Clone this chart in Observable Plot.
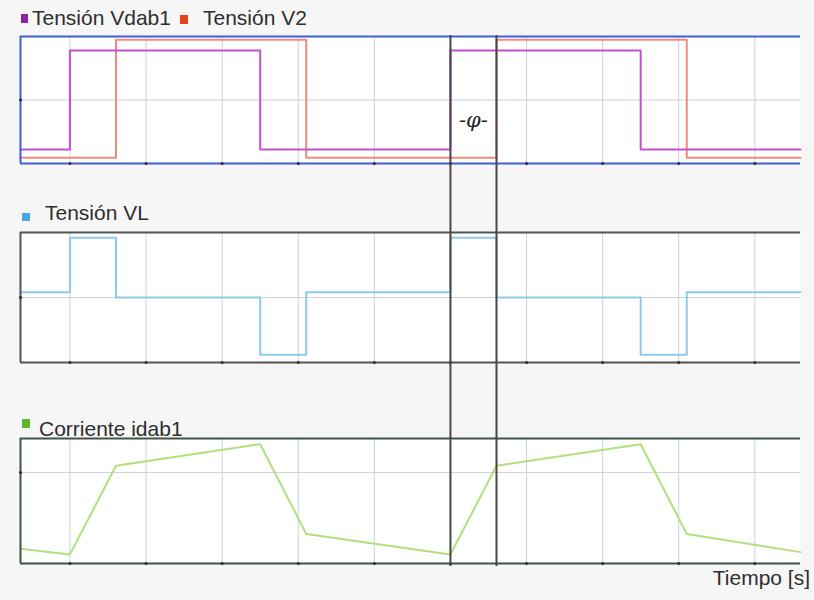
<!DOCTYPE html>
<html>
<head>
<meta charset="utf-8">
<script src="https://cdn.jsdelivr.net/npm/d3@7"></script>
<script src="https://cdn.jsdelivr.net/npm/@observablehq/plot@0.6"></script>
<style>
  html, body { margin: 0; padding: 0; background: #f6f6f6; }
  #wrap { position: relative; width: 814px; height: 600px; background: #f6f6f6;
          font-family: "Liberation Sans", Arial, sans-serif; color: #2e2e2e; overflow: hidden; }
  .pl { position: absolute; left: 0; }
  .lab { position: absolute; white-space: nowrap; line-height: 1; }
  .sw { position: absolute; }
</style>
</head>
<body>
<div id="wrap">
  <div class="sw" style="left:21px;top:14px;width:7px;height:9px;background:#8b22a8"></div>
  <div class="lab" style="left:32px;top:7px;font-size:21px">Tensión Vdab1</div>
  <div class="sw" style="left:180px;top:15px;width:8px;height:9px;background:#e8421e"></div>
  <div class="lab" style="left:203px;top:7px;font-size:21px">Tensión V2</div>

  <div class="sw" style="left:22px;top:213px;width:8px;height:8px;background:#42a9dc"></div>
  <div class="lab" style="left:45px;top:202px;font-size:21px">Tensión VL</div>

  <div class="sw" style="left:22px;top:419px;width:8px;height:9px;background:#5cb82c"></div>
  <div class="lab" style="left:39px;top:418px;font-size:21px">Corriente idab1</div>

  <div class="lab" style="right:4px;top:567px;font-size:21px">Tiempo [s]</div>
</div>
<script>
// Tiempo (µs) de cada vértice, común a todas las señales
const tiempo = [-1.3, 0, 1.21, 5, 6.21, 10, 11.21, 15, 16.21, 19.2];
// Tensión Vdab1 (escalón)
const vdab1 = [-0.78, 0.78, 0.78, -0.78, -0.78, 0.78, 0.78, -0.78, -0.78, -0.78];
// Tensión V2 (escalón, desfasada φ)
const v2 = [-0.91, -0.91, 0.95, 0.95, -0.91, -0.91, 0.95, 0.95, -0.91, -0.91];
// Tensión VL (escalón)
const vl = [0.08, 0.92, 0.0, -0.88, 0.08, 0.92, 0.0, -0.88, 0.08, 0.08];
// Corriente idab1 (lineal por tramos)
const idab1 = [-6.7, -7.2, 0.6, 2.5, -5.4, -7.2, 0.6, 2.5, -5.4, -7.0];
// Rejilla vertical
const gridTiempo = [0, 2, 4, 6, 8, 10, 12, 14, 16, 18];
// Líneas del desfase φ
const desfase = [10, 11.21];
const xDomain = [-1.3, 19.2];

const rows = (vals) => tiempo.map((t, i) => ({t, v: vals[i]}));

function panel({top, height, marginTop, marginBottom, yDomain, frameColor, series, curve, extra = []}) {
  const chart = Plot.plot({
    width: 814, height, marginLeft: 20, marginRight: 14, marginTop, marginBottom,
    x: {domain: xDomain, axis: null},
    y: {domain: yDomain, axis: null},
    style: {background: "transparent", overflow: "visible"},
    marks: [
      Plot.frame({fill: "white", stroke: null}),
      Plot.ruleX(gridTiempo, {stroke: "#c9d1db", strokeWidth: 1}),
      Plot.ruleY([0], {stroke: "#c9d1db", strokeWidth: 1}),
      ...series.map(s => Plot.line(rows(s.values), {x: "t", y: "v", stroke: s.color, strokeWidth: 2, curve})),
      Plot.ruleY(yDomain, {stroke: frameColor, strokeWidth: 2}),
      Plot.ruleX([xDomain[0]], {stroke: frameColor, strokeWidth: 2}),
      Plot.dot(gridTiempo, {x: d => d, y: () => yDomain[0], r: 1.6, fill: "#333", stroke: null}),
      Plot.dot([0], {x: () => xDomain[0], y: d => d, r: 1.6, fill: "#333", stroke: null}),
      ...extra
    ]
  });
  chart.classList.add("pl");
  chart.style.top = top + "px";
  document.getElementById("wrap").appendChild(chart);
}

panel({
  top: 0, height: 175, marginTop: 36, marginBottom: 12, yDomain: [-1, 1], frameColor: "#3f5fd6",
  curve: "step-after",
  series: [{values: v2, color: "#f28a7c"}, {values: vdab1, color: "#c450cf"}],
  extra: [
    Plot.text([(desfase[0] + desfase[1]) / 2], {x: d => d, y: () => -0.32, text: () => "-φ-",
      fontSize: 21, fontStyle: "italic", fontFamily: "DejaVu Serif, serif", fill: "#222"})
  ]
});

panel({
  top: 190, height: 185, marginTop: 42, marginBottom: 13, yDomain: [-1, 1], frameColor: "#555",
  curve: "step-after",
  series: [{values: vl, color: "#8ccbea"}]
});

panel({
  top: 400, height: 180, marginTop: 38, marginBottom: 17, yDomain: [-8, 3], frameColor: "#3b5747",
  curve: "linear",
  series: [{values: idab1, color: "#b2df7c"}]
});

// Líneas verticales del desfase que cruzan los tres paneles
const over = Plot.plot({
  width: 814, height: 600, marginLeft: 20, marginRight: 14, marginTop: 35, marginBottom: 34,
  x: {domain: xDomain, axis: null},
  y: {axis: null},
  style: {background: "transparent"},
  marks: [Plot.ruleX(desfase, {stroke: "#474747", strokeWidth: 2})]
});
over.classList.add("pl");
over.style.top = "0px";
over.style.pointerEvents = "none";
document.getElementById("wrap").appendChild(over);
</script>
</body>
</html>
